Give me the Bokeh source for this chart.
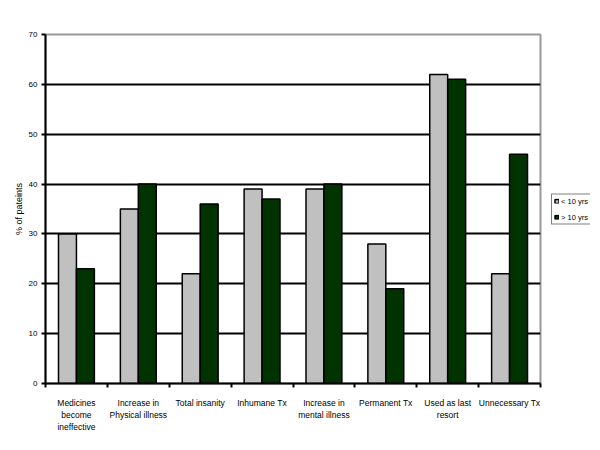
from bokeh.plotting import figure
from bokeh.models import ColumnDataSource, FixedTicker, Legend, LegendItem, Range1d
from bokeh.layouts import row
from bokeh.embed import file_html
from bokeh.resources import INLINE

categories = ["Medicines\nbecome\nineffective", "Increase in\nPhysical illness", "Total insanity",
              "Inhumane Tx", "Increase in\nmental illness", "Permanent Tx",
              "Used as last\nresort", "Unnecessary Tx"]
under10 = [30, 35, 22, 39, 39, 28, 62, 22]
over10 = [23, 40, 36, 37, 40, 19, 61, 46]
series_names = ["< 10 yrs", "> 10 yrs"]
y_ticks = [0, 10, 20, 30, 40, 50, 60, 70]

FONT = "Liberation Sans"
GREY = "#C0C0C0"
GREEN = "#003300"
n = len(categories)
centers = [i + 0.5 for i in range(n)]
bw = 0.29

src = ColumnDataSource(dict(
    x1=[c - bw / 2 for c in centers], x2=[c + bw / 2 for c in centers],
    a=under10, b=over10))

p = figure(width=542, height=434, output_backend="svg", toolbar_location=None,
           x_range=Range1d(0, n), y_range=Range1d(0, 70),
           min_border_left=45, min_border_top=34, min_border_bottom=51, min_border_right=2)

p.vbar(x="x1", top="a", width=bw, source=src, fill_color=GREY, line_color="black", line_width=1.5)
p.vbar(x="x2", top="b", width=bw, source=src, fill_color=GREEN, line_color="black", line_width=1.5)

p.outline_line_color = "#999999"
p.outline_line_width = 2

p.xgrid.visible = False
p.ygrid.ticker = FixedTicker(ticks=y_ticks[1:-1])
p.ygrid.grid_line_color = "black"
p.ygrid.grid_line_width = 2

p.yaxis.ticker = FixedTicker(ticks=y_ticks)
p.yaxis.axis_line_width = 2
p.yaxis.major_tick_line_width = 2
p.yaxis.major_tick_out = 4
p.yaxis.major_tick_in = 0
p.yaxis.minor_tick_line_color = None
p.yaxis.major_label_text_font = FONT
p.yaxis.major_label_text_font_size = "8px"
p.yaxis.major_label_text_color = "black"
p.yaxis.major_label_standoff = 4
p.yaxis.axis_label = "% of pateints"
p.yaxis.axis_label_text_font = FONT
p.yaxis.axis_label_text_font_size = "9px"
p.yaxis.axis_label_text_font_style = "normal"
p.yaxis.axis_label_text_color = "black"
p.yaxis.axis_label_standoff = 2

p.xaxis.ticker = FixedTicker(ticks=centers, minor_ticks=list(range(n + 1)))
p.xaxis.major_label_overrides = {c: lab for c, lab in zip(centers, categories)}
p.xaxis.axis_line_width = 2
p.xaxis.major_tick_line_color = None
p.xaxis.minor_tick_line_width = 2
p.xaxis.minor_tick_out = 4
p.xaxis.minor_tick_in = 0
p.xaxis.major_label_text_font = FONT
p.xaxis.major_label_text_font_size = "8.5px"
p.xaxis.major_label_text_color = "black"
p.xaxis.major_label_standoff = 8

# legend panel
q = figure(width=48, height=434, output_backend="svg", toolbar_location=None,
           x_range=Range1d(0, 1), y_range=Range1d(0, 1),
           min_border_left=9, min_border_right=0, min_border_top=0, min_border_bottom=0)
q.axis.visible = False
q.grid.visible = False
q.outline_line_color = None
# tiny proxy glyphs, hidden behind the opaque legend box
g1 = q.vbar(x=[0.5], top=[0.505], bottom=[0.5], width=0.01, fill_color=GREY, line_color="black", line_width=1.5)
g2 = q.vbar(x=[0.5], top=[0.505], bottom=[0.5], width=0.01, fill_color=GREEN, line_color="black", line_width=1.5)
legend = Legend(items=[LegendItem(label=series_names[0], renderers=[g1]),
                       LegendItem(label=series_names[1], renderers=[g2])],
                location="left", border_line_color="black", border_line_width=1.5,
                background_fill_color="white", background_fill_alpha=1.0,
                label_text_font=FONT, label_text_font_size="7.5px", label_text_color="black",
                glyph_width=5, glyph_height=5, label_standoff=2,
                padding=2, spacing=7, margin=0, label_height=8)
q.add_layout(legend)

layout = row(p, q, spacing=0)
open("out.html", "w").write(file_html(layout, INLINE))
